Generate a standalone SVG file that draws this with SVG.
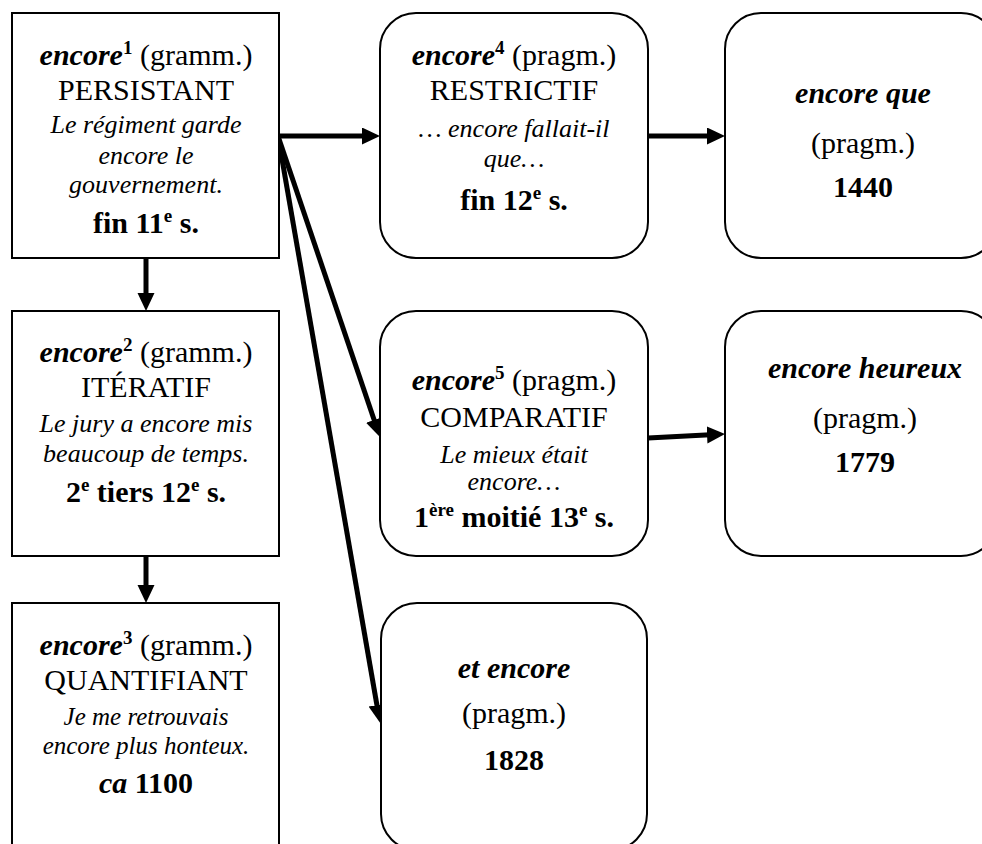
<svg xmlns="http://www.w3.org/2000/svg" width="982" height="844" viewBox="0 0 982 844">
<style>
.n{fill:#fff;stroke:#000;stroke-width:2}
.t{font-family:"Liberation Serif","Times New Roman",serif;font-size:30px;text-anchor:middle;fill:#000}
.ex{font-size:26px;font-style:italic}
.b{font-weight:bold}
.bi{font-weight:bold;font-style:italic}
.sup{font-size:19px;font-weight:bold}
.c{stroke:#000;stroke-width:5;fill:none;marker-end:url(#ah)}
</style>
<defs>
<marker id="ah" markerUnits="userSpaceOnUse" markerWidth="20" markerHeight="18" refX="8" refY="8.5" orient="auto">
<path d="M0,0 L18,8.5 L0,17 Z" fill="#000"/>
</marker>
</defs>
<rect width="982" height="844" fill="#fff"/>
<g id="connectors">
<line class="c" x1="146" y1="258" x2="146" y2="301"/>
<line class="c" x1="146" y1="556" x2="146" y2="593"/>
<line class="c" x1="278" y1="136" x2="370" y2="136"/>
<line class="c" x1="278" y1="136" x2="376.7" y2="427.5"/>
<line class="c" x1="278" y1="136" x2="378.3" y2="713"/>
<line class="c" x1="648" y1="136" x2="715" y2="136"/>
<line class="c" x1="648" y1="438" x2="715" y2="434.5"/>
</g>
<g id="n1">
<rect class="n" x="12" y="13" width="267" height="245"/>
<text class="t" x="146" y="65"><tspan class="bi">encore</tspan><tspan class="sup" dy="-11">1</tspan><tspan dy="11"> (gramm.)</tspan></text>
<text class="t" x="146" y="100">PERSISTANT</text>
<text class="t ex" x="146" y="133">Le régiment garde</text>
<text class="t ex" x="146" y="164">encore le</text>
<text class="t ex" x="146" y="193">gouvernement.</text>
<text class="t b" x="146" y="233">fin 11<tspan class="sup" dy="-11">e</tspan><tspan dy="11"> s.</tspan></text>
</g>
<g id="n2">
<rect class="n" x="12" y="311" width="267" height="245"/>
<text class="t" x="146" y="362"><tspan class="bi">encore</tspan><tspan class="sup" dy="-11">2</tspan><tspan dy="11"> (gramm.)</tspan></text>
<text class="t" x="146" y="397">ITÉRATIF</text>
<text class="t ex" x="146" y="432">Le jury a encore mis</text>
<text class="t ex" x="146" y="462">beaucoup de temps.</text>
<text class="t b" x="146" y="502">2<tspan class="sup" dy="-11">e</tspan><tspan dy="11"> tiers 12</tspan><tspan class="sup" dy="-11">e</tspan><tspan dy="11"> s.</tspan></text>
</g>
<g id="n3">
<rect class="n" x="12" y="603" width="267" height="260"/>
<text class="t" x="146" y="655"><tspan class="bi">encore</tspan><tspan class="sup" dy="-11">3</tspan><tspan dy="11"> (gramm.)</tspan></text>
<text class="t" x="146" y="690">QUANTIFIANT</text>
<text class="t ex" x="146" y="725" style="font-size:25px">Je me retrouvais</text>
<text class="t ex" x="146" y="754" style="font-size:25px">encore plus honteux.</text>
<text class="t b" x="146" y="793"><tspan class="bi">ca</tspan> 1100</text>
</g>
<g id="n4">
<rect class="n" x="380" y="13" width="268" height="245" rx="36" ry="36"/>
<text class="t" x="514" y="65"><tspan class="bi">encore</tspan><tspan class="sup" dy="-11">4</tspan><tspan dy="11"> (pragm.)</tspan></text>
<text class="t" x="514" y="100">RESTRICTIF</text>
<text class="t ex" x="514" y="137">… encore fallait-il</text>
<text class="t ex" x="514" y="167">que…</text>
<text class="t b" x="514" y="210">fin 12<tspan class="sup" dy="-11">e</tspan><tspan dy="11"> s.</tspan></text>
</g>
<g id="n5">
<rect class="n" x="380" y="311" width="268" height="245" rx="36" ry="36"/>
<text class="t" x="514" y="390"><tspan class="bi">encore</tspan><tspan class="sup" dy="-11">5</tspan><tspan dy="11"> (pragm.)</tspan></text>
<text class="t" x="514" y="427">COMPARATIF</text>
<text class="t ex" x="514" y="463">Le mieux était</text>
<text class="t ex" x="514" y="490">encore…</text>
<text class="t b" x="514" y="527">1<tspan class="sup" dy="-11">ère</tspan><tspan dy="11"> moitié 13</tspan><tspan class="sup" dy="-11">e</tspan><tspan dy="11"> s.</tspan></text>
</g>
<g id="n6">
<rect class="n" x="725" y="13" width="272" height="245" rx="36" ry="36"/>
<text class="t bi" x="863" y="103">encore que</text>
<text class="t" x="863" y="153">(pragm.)</text>
<text class="t b" x="863" y="197">1440</text>
</g>
<g id="n7">
<rect class="n" x="725" y="311" width="272" height="245" rx="36" ry="36"/>
<text class="t bi" x="865" y="378">encore heureux</text>
<text class="t" x="865" y="428">(pragm.)</text>
<text class="t b" x="865" y="472">1779</text>
</g>
<g id="n8">
<rect class="n" x="381" y="603" width="266" height="247" rx="36" ry="36"/>
<text class="t bi" x="514" y="678">et encore</text>
<text class="t" x="514" y="723">(pragm.)</text>
<text class="t b" x="514" y="770">1828</text>
</g>
</svg>
